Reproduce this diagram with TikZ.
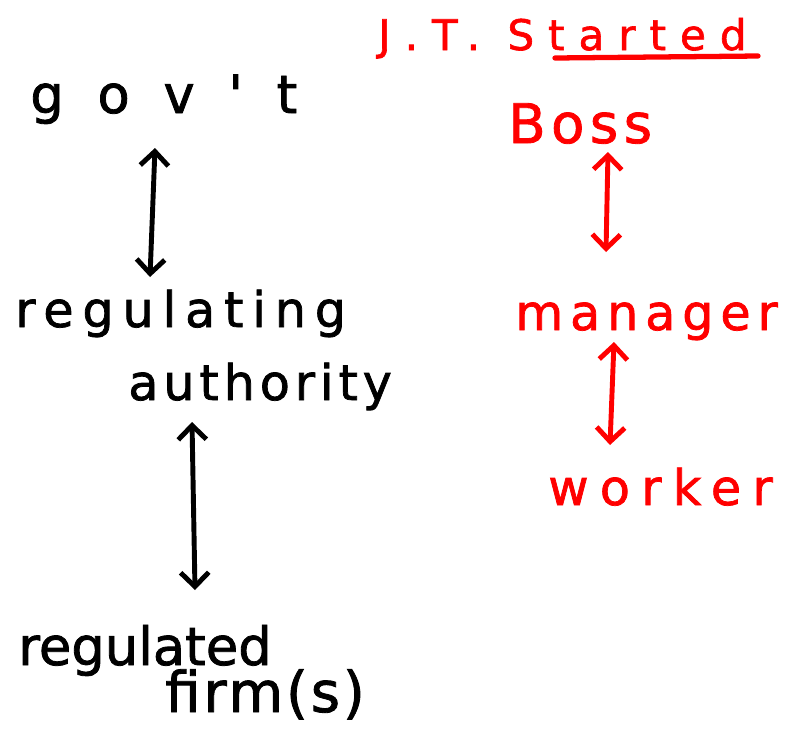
\documentclass[tikz,border=0pt]{standalone}
\usepackage{fontspec}
\usepackage{tikz}
\usetikzlibrary{arrows.meta}
\newfontfamily\handfont[FakeBold=1.5]{DejaVu Sans}
\newcommand{\scrawl}[2]{\handfont\fontsize{#1}{#1}\selectfont\addfontfeature{LetterSpace=#2}}

\begin{document}
\begin{tikzpicture}[x=0.02cm, y=-0.02cm,
    word/.style={anchor=base west, inner sep=0pt},
    twoway/.style={{Straight Barb[length=8pt,width=16pt]}-{Straight Barb[length=8pt,width=16pt]}, line width=2.8pt, line cap=round, line join=round}]
    \useasboundingbox (0,0) rectangle (801,731);

    % Left chain: government and regulation
    \node[word] (gov) at (30,113) {\scrawl{30}{64}gov't};
    \node[word] (reg) at (15,327) {\scrawl{28}{18}regulating};
    \node[word] (auth) at (128,400) {\scrawl{28}{10}authority};
    \node[word] (firmA) at (18,665) {\scrawl{30}{0}regulated};
    \node[word] (firmB) at (165,712) {\scrawl{32}{5}firm(s)};

    \draw[twoway] ([shift={(125,35)}]gov.base west) -- ([shift={(135,-50)}]reg.base west);
    \draw[twoway] ([shift={(64,22)}]auth.base west) -- ([shift={(177,-75)}]firmA.base west);

    % Right chain (red): J.T. Started
    \node[word, red] (title) at (378,50) {\scrawl{24}{33}J.T. Started};
    \draw[red, line width=3pt, line cap=round] ([shift={(177,8)}]title.base west) -- ([shift={(380,6)}]title.base west);

    \node[word, red] (boss) at (508,143) {\scrawl{31}{10}Boss};
    \node[word, red] (mgr) at (515,330) {\scrawl{28}{14}manager};
    \node[word, red] (wrk) at (548,505) {\scrawl{28}{23}worker};

    \draw[twoway, red] ([shift={(100,9)}]boss.base west) -- ([shift={(91,-78)}]mgr.base west);
    \draw[twoway, red] ([shift={(99,12)}]mgr.base west) -- ([shift={(62,-60)}]wrk.base west);
\end{tikzpicture}
\end{document}
